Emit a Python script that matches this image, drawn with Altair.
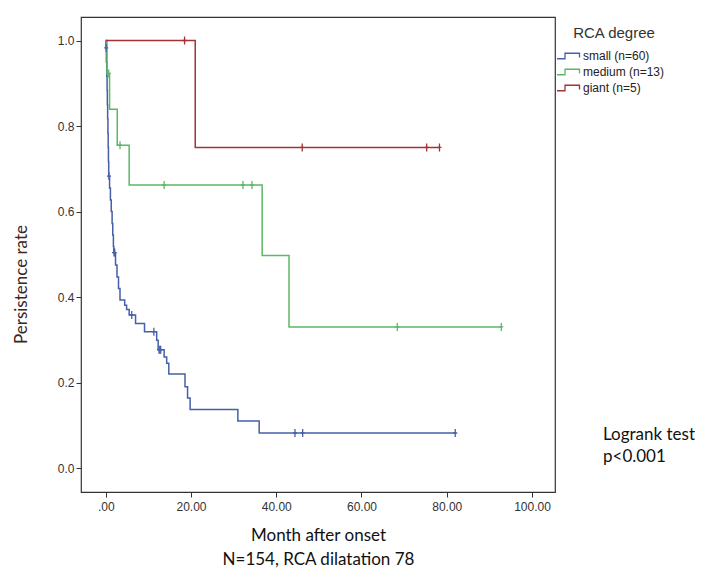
import altair as alt
import pandas as pd

groups = ["small (n=60)", "medium (n=13)", "giant (n=5)"]
colors = ["#4660a8", "#5cb865", "#a33333"]

small_t = [0, 0.05, 0.15, 0.25, 0.32, 0.38, 0.45, 0.52, 0.58, 0.64, 0.70, 0.90, 1.10, 1.30, 1.50,
           1.65, 1.80, 1.90, 2.30, 2.65, 3.00, 3.35, 4.45, 4.9, 5.5, 7.0, 9.1, 11.95, 12.3, 13.7,
           14.3, 14.8, 18.6, 19.2, 19.8, 31.0, 36.0, 82.0]
small_s = [1.0, 0.983, 0.950, 0.917, 0.883, 0.850, 0.817, 0.783, 0.750, 0.717, 0.683, 0.655, 0.627,
           0.600, 0.572, 0.545, 0.518, 0.504, 0.475, 0.447, 0.420, 0.393, 0.381, 0.371, 0.358, 0.338,
           0.319, 0.299, 0.277, 0.260, 0.245, 0.220, 0.190, 0.164, 0.137, 0.110, 0.082, 0.082]
small_ct = [0.1, 0.75, 1.95, 2.1, 6.1, 11.3, 12.5, 12.7, 12.9, 44.4, 46.2, 82.0]
small_cs = [0.983, 0.683, 0.504, 0.504, 0.358, 0.319, 0.277, 0.277, 0.277, 0.082, 0.082, 0.082]

medium_t = [0, 0.3, 0.9, 2.7, 5.5, 36.7, 43.0, 92.8]
medium_s = [1.0, 0.923, 0.839, 0.755, 0.662, 0.497, 0.330, 0.330]
medium_ct = [0.7, 3.35, 13.7, 32.2, 34.3, 68.4, 92.8]
medium_cs = [0.923, 0.755, 0.662, 0.662, 0.662, 0.330, 0.330]

giant_t = [0, 21.0, 78.3]
giant_s = [1.0, 0.75, 0.75]
giant_ct = [18.5, 46.1, 75.3, 78.3]
giant_cs = [1.0, 0.75, 0.75, 0.75]

x_ticks = [0, 20, 40, 60, 80, 100]
y_ticks = [0.0, 0.2, 0.4, 0.6, 0.8, 1.0]

rows, crows = [], []
for g, ts, ss, cts, css in [
    (groups[0], small_t, small_s, small_ct, small_cs),
    (groups[1], medium_t, medium_s, medium_ct, medium_cs),
    (groups[2], giant_t, giant_s, giant_ct, giant_cs),
]:
    for i, (t, s) in enumerate(zip(ts, ss)):
        rows.append({"group": g, "t": t, "s": s, "o": i})
    for t, s in zip(cts, css):
        crows.append({"group": g, "t": t, "s": s})
df = pd.DataFrame(rows)
cdf = pd.DataFrame(crows)

legend = alt.Legend(
    title="RCA degree", orient="none", legendX=482, legendY=9,
    titleAnchor="middle", titleFontSize=15, titleFont="Liberation Sans", titleFontWeight="normal",
    titleColor="#333333", titlePadding=9,
    labelFont="Liberation Sans", labelFontSize=12, labelColor="#222222", labelOffset=8,
    symbolType="M-2.4,0.55H-0.8V-0.55H2.1V0.3", symbolSize=100, symbolStrokeWidth=1.3,
    symbolFillColor="transparent", rowPadding=4,
)
color = alt.Color("group:N", scale=alt.Scale(domain=groups, range=colors), legend=legend)

xs = alt.Scale(domain=[-5.8, 105.4], nice=False, zero=False)
ys = alt.Scale(domain=[-0.056, 1.055], nice=False, zero=False)

xaxis = alt.Axis(
    values=x_ticks, labelExpr="datum.value == 0 ? '.00' : format(datum.value, '.2f')",
    title=["Month after onset", "N=154, RCA dilatation 78"], titleFont="Lato", titleFontSize=17,
    titleFontWeight="normal", titleColor="#111111", titleLineHeight=24,
    titleBaseline="top", titleY=35,
    labelFont="Liberation Sans", labelFontSize=12, labelColor="#333333", labelPadding=4,
    domain=False, grid=False, tickSize=5, tickColor="#333333",
)
yaxis = alt.Axis(
    values=y_ticks, format=".1f", title="Persistence rate", titleFont="Lato", titleFontSize=17,
    titleFontWeight="normal", titleColor="#3a2626", titleAngle=-90, titleX=-60, titleY=267,
    titleAlign="center", titleBaseline="middle",
    labelFont="Liberation Sans", labelFontSize=12, labelColor="#333333", labelPadding=2,
    domain=False, grid=False, tickSize=5, tickColor="#333333",
)

lines = alt.Chart(df).mark_line(interpolate="step-after", strokeWidth=1.5).encode(
    x=alt.X("t:Q", scale=xs, axis=xaxis),
    y=alt.Y("s:Q", scale=ys, axis=yaxis),
    color=color,
    order="o:Q",
)
cens = alt.Chart(cdf).mark_point(
    shape="M0,-1L0,1M-0.5,0L0.5,0", filled=False, size=64, strokeWidth=1.3, opacity=1
).encode(x=alt.X("t:Q", scale=xs), y=alt.Y("s:Q", scale=ys), color=color)

note = alt.Chart(pd.DataFrame({"txt": ["Logrank test", "p<0.001"], "yy": [418, 440]})).mark_text(
    align="left", baseline="middle", font="Lato", fontSize=17, color="#111111"
).encode(text="txt:N", x=alt.value(522), y=alt.Y("yy:Q", scale=None))

chart = alt.layer(lines, cens, note).properties(
    width=474, height=475,
    autosize=alt.AutoSizeParams(type="none"),
    padding={"left": 73, "top": 9, "right": 140, "bottom": 78},
).configure_view(stroke="#333333", strokeWidth=1.2)

chart.save("out.html", embed_options={"renderer": "svg", "actions": False})
